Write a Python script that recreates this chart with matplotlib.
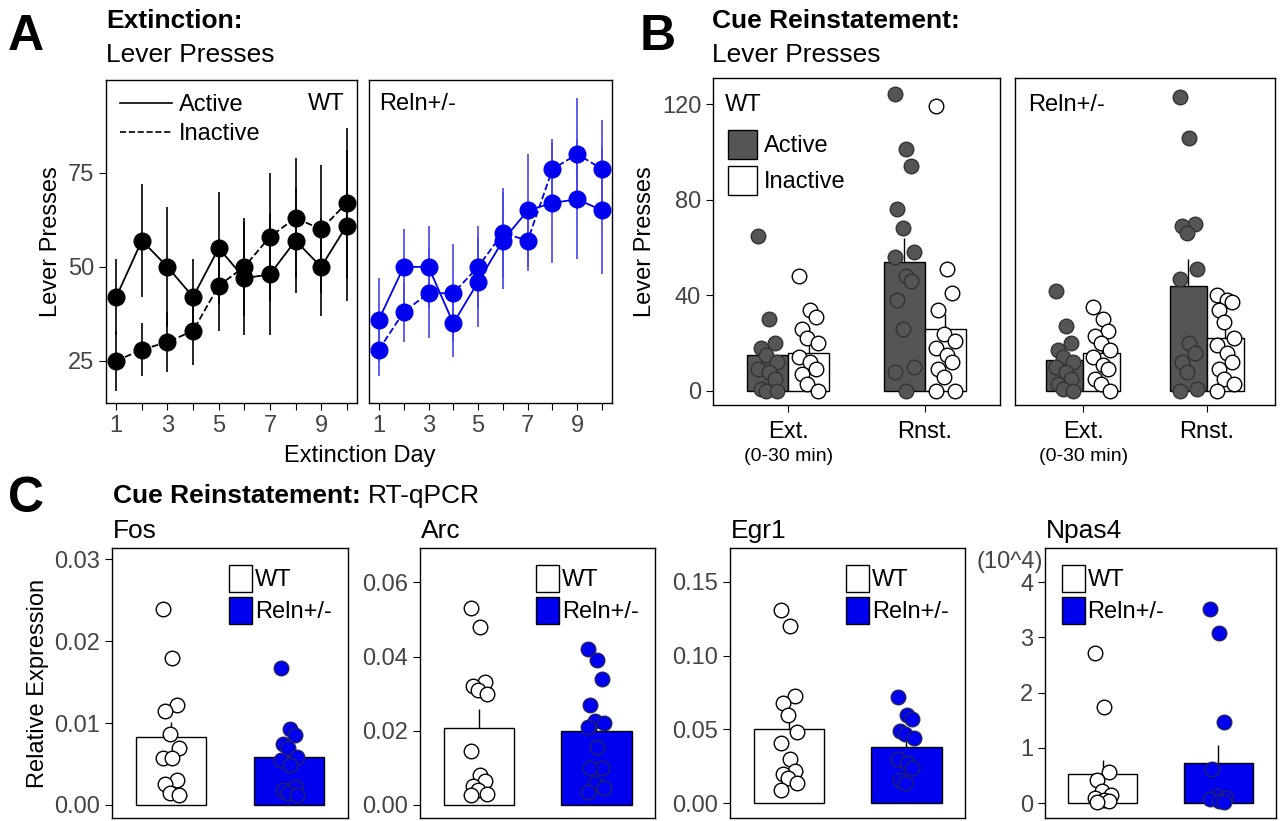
import matplotlib.pyplot as plt
from matplotlib.lines import Line2D
from matplotlib.patches import Patch
import numpy as np

plt.rcParams['font.family'] = ['Liberation Sans', 'DejaVu Sans']

W, H = 1280, 821
GRAY = '#555555'
BLUE = '#0000ee'
TICK_C = '#444444'

# ---- panel A data ----
days = list(range(1, 11))
wt_active = [42, 57, 50, 42, 55, 47, 48, 57, 50, 61]
wt_active_sem = [10, 15, 16, 10, 15, 15, 16, 14, 13, 20]
wt_inactive = [25, 28, 30, 33, 45, 50, 58, 63, 60, 67]
wt_inactive_sem = [8, 7, 8, 9, 12, 13, 17, 16, 17, 20]
rl_active = [36, 50, 50, 35, 46, 57, 65, 67, 68, 65]
rl_active_sem = [11, 10, 11, 9, 12, 13, 15, 16, 16, 17]
rl_inactive = [28, 38, 43, 43, 50, 59, 57, 76, 80, 76]
rl_inactive_sem = [7, 8, 12, 13, 11, 12, 8, 8, 15, 13]

# ---- panel B data ----
b_cats = ['Ext.\n(0-30 min)', 'Rnst.']
b_wt_act_mean = [15, 54]
b_wt_act_sem = [4, 10]
b_wt_ina_mean = [16, 26]
b_wt_ina_sem = [4, 6]
b_rl_act_mean = [13, 44]
b_rl_act_sem = [3, 11]
b_rl_ina_mean = [16, 22]
b_rl_ina_sem = [3, 5]
b_wt_act_pts = [[65, 30, 20, 18, 15, 12, 9, 8, 5, 1, 0, 0],
                [124, 101, 94, 76, 68, 58, 56, 48, 46, 38, 26, 10, 8, 0]]
b_wt_ina_pts = [[48, 34, 31, 26, 22, 20, 14, 12, 9, 7, 3, 0],
                [119, 51, 41, 34, 24, 21, 18, 15, 12, 9, 6, 0, 0]]
b_rl_act_pts = [[42, 27, 20, 17, 14, 12, 10, 8, 5, 3, 1, 0],
                [123, 106, 70, 69, 66, 51, 47, 20, 16, 12, 8, 1, 0]]
b_rl_ina_pts = [[35, 30, 25, 23, 20, 17, 14, 11, 9, 5, 3, 0],
                [40, 38, 37, 34, 29, 22, 19, 16, 12, 9, 5, 3, 0]]

# ---- panel C data ----
genes = ['Fos', 'Arc', 'Egr1', 'Npas4']
c_wt_mean = [0.0083, 0.0208, 0.050, 0.53]
c_wt_sem = [0.0018, 0.005, 0.009, 0.25]
c_rl_mean = [0.0058, 0.0198, 0.038, 0.73]
c_rl_sem = [0.0012, 0.003, 0.004, 0.33]
c_wt_pts = [[0.024, 0.018, 0.0122, 0.0115, 0.0087, 0.007, 0.0057, 0.0057, 0.003, 0.0025, 0.0015, 0.0012],
            [0.053, 0.048, 0.033, 0.032, 0.031, 0.030, 0.0145, 0.008, 0.0065, 0.005, 0.004, 0.003, 0.0025],
            [0.131, 0.120, 0.073, 0.068, 0.060, 0.048, 0.041, 0.030, 0.022, 0.020, 0.017, 0.014, 0.009],
            [2.72, 1.74, 0.57, 0.42, 0.22, 0.15, 0.10, 0.05, 0.03, 0.02]]
c_rl_pts = [[0.0167, 0.0093, 0.0085, 0.0075, 0.0069, 0.0058, 0.0055, 0.0049, 0.0022, 0.0018, 0.0015, 0.0012],
            [0.042, 0.039, 0.034, 0.027, 0.0225, 0.022, 0.021, 0.0155, 0.010, 0.010, 0.0055, 0.0045, 0.0035],
            [0.072, 0.060, 0.057, 0.049, 0.047, 0.044, 0.030, 0.027, 0.024, 0.016, 0.014],
            [3.52, 3.08, 1.46, 0.62, 0.12, 0.10, 0.07, 0.04, 0.02]]
c_ylims = [(-0.0016, 0.0314), (-0.0036, 0.0693), (-0.010, 0.173), (-0.27, 4.62)]
c_yticks = [[0, 0.01, 0.02, 0.03], [0, 0.02, 0.04, 0.06], [0, 0.05, 0.10, 0.15], [0, 1, 2, 3, 4]]
c_yfmt = ['{:.2f}', '{:.2f}', '{:.2f}', '{:.0f}']
c_boxes = [(112, 548, 348, 818), (420, 548, 655, 818), (730, 548, 965, 818), (1045, 548, 1276, 818)]

fig = plt.figure(figsize=(12.8, 8.21), dpi=100)


def box(x0, y0, x1, y1):
    return fig.add_axes([x0 / W, 1 - y1 / H, (x1 - x0) / W, (y1 - y0) / H])


def style(ax, size=15):
    ax.tick_params(labelsize=size, colors='black', labelcolor=TICK_C, length=5)
    for s in ax.spines.values():
        s.set_linewidth(1.0)


def offsets(n, w=0.09):
    return np.array([((i % 3) - 1) * w + ((i % 2) - 0.5) * w * 0.3 for i in range(n)])


# ---------- panel A ----------
fig.text(8 / W, 1 - 50 / H, 'A', fontsize=36, fontweight='bold', va='baseline')
fig.text(106 / W, 1 - 28 / H, 'Extinction:', fontsize=19, fontweight='bold', va='baseline')
fig.text(106 / W, 1 - 62 / H, 'Lever Presses', fontsize=19, va='baseline')

axA1 = box(106, 80, 357, 403)
axA2 = box(369, 80, 612, 403)
for ax, act, asem, ina, isem, col in [
        (axA1, wt_active, wt_active_sem, wt_inactive, wt_inactive_sem, 'black'),
        (axA2, rl_active, rl_active_sem, rl_inactive, rl_inactive_sem, BLUE)]:
    ec = col if col == 'black' else '#4444ee'
    ax.errorbar(days, act, yerr=asem, color=col, ls='-', lw=1.3, marker='o', ms=12,
                elinewidth=1.2, ecolor=ec, capsize=0)
    ax.errorbar(days, ina, yerr=isem, color=col, ls='--', lw=1.3, marker='o', ms=12,
                elinewidth=1.2, ecolor=ec, capsize=0)
    ax.set_xlim(0.6, 10.4)
    ax.set_ylim(13.8, 99.7)
    ax.set_xticks(days)
    ax.set_xticklabels([str(d) if d % 2 else '' for d in days])
    style(ax, 17)
axA1.set_yticks([25, 50, 75])
axA1.set_ylabel('Lever Presses', fontsize=17)
axA2.set_yticks([])
axA1.legend(handles=[Line2D([], [], color='black', lw=1.2, ls='-'),
                     Line2D([], [], color='black', lw=1.2, ls='--')],
            labels=['Active', 'Inactive'], loc='upper left', frameon=False, fontsize=17,
            handlelength=2.2, handletextpad=0.3, borderaxespad=0.2, labelspacing=0.3)
axA1.text(0.95, 0.96, 'WT', transform=axA1.transAxes, ha='right', va='top', fontsize=17)
axA2.text(0.04, 0.96, 'Reln+/-', transform=axA2.transAxes, ha='left', va='top', fontsize=17)
fig.text(360 / W, 1 - 462 / H, 'Extinction Day', fontsize=17, ha='center', va='baseline')

# ---------- panel B ----------
fig.text(640 / W, 1 - 50 / H, 'B', fontsize=36, fontweight='bold', va='baseline')
fig.text(712 / W, 1 - 28 / H, 'Cue Reinstatement:', fontsize=19, fontweight='bold', va='baseline')
fig.text(712 / W, 1 - 62 / H, 'Lever Presses', fontsize=19, va='baseline')

axB1 = box(713, 78, 1000, 405)
axB2 = box(1015, 78, 1275, 405)
bw = 0.3
for ax, am, asem, im, isem, ap, ip in [
        (axB1, b_wt_act_mean, b_wt_act_sem, b_wt_ina_mean, b_wt_ina_sem, b_wt_act_pts, b_wt_ina_pts),
        (axB2, b_rl_act_mean, b_rl_act_sem, b_rl_ina_mean, b_rl_ina_sem, b_rl_act_pts, b_rl_ina_pts)]:
    x = np.arange(len(b_cats))
    ax.bar(x - bw / 2, am, bw, color=GRAY, edgecolor='black', lw=1)
    ax.bar(x + bw / 2, im, bw, color='white', edgecolor='black', lw=1)
    ax.errorbar(x - bw / 2, am, yerr=[np.zeros(2), asem], fmt='none', ecolor='black', lw=1)
    ax.errorbar(x + bw / 2, im, yerr=[np.zeros(2), isem], fmt='none', ecolor='black', lw=1)
    for i in range(len(b_cats)):
        ax.scatter(x[i] - bw / 2 + offsets(len(ap[i]), 0.06), ap[i], s=110, color=GRAY,
                   edgecolor='#333333', lw=1, zorder=3)
        ax.scatter(x[i] + bw / 2 + offsets(len(ip[i]), 0.06), ip[i], s=110, color='white',
                   edgecolor='black', lw=1, zorder=3)
    ax.set_xlim(-0.55, 1.55)
    ax.set_ylim(-5.9, 130.9)
    ax.set_xticks(x)
    ax.set_xticklabels(['', ''])
    for i, c in enumerate(b_cats):
        top, sub = (c.split('\n') + [''])[:2]
        ax.text(x[i], -0.05, top, transform=ax.get_xaxis_transform(), ha='center', va='top', fontsize=17)
        if sub:
            ax.text(x[i], -0.13, sub, transform=ax.get_xaxis_transform(), ha='center', va='top', fontsize=14)
    style(ax, 17)
axB1.set_yticks([0, 40, 80, 120])
axB1.set_ylabel('Lever Presses', fontsize=17)
axB2.set_yticks([])
axB1.text(0.04, 0.95, 'WT', transform=axB1.transAxes, ha='left', va='top', fontsize=17)
axB2.text(0.05, 0.95, 'Reln+/-', transform=axB2.transAxes, ha='left', va='top', fontsize=17)
axB1.legend(handles=[Patch(facecolor=GRAY, edgecolor='black'), Patch(facecolor='white', edgecolor='black')],
            labels=['Active', 'Inactive'], loc='upper left', bbox_to_anchor=(0.02, 0.87),
            frameon=False, fontsize=17, handlelength=1.2, handleheight=1.5, handletextpad=0.3,
            labelspacing=0.3, borderaxespad=0)

# ---------- panel C ----------
fig.text(8 / W, 1 - 512 / H, 'C', fontsize=36, fontweight='bold', va='baseline')
fig.text(113 / W, 1 - 503 / H, 'Cue Reinstatement:', fontsize=19, fontweight='bold', va='baseline')
fig.text(368 / W, 1 - 503 / H, 'RT-qPCR', fontsize=19, va='baseline')
for k, g in enumerate(genes):
    x0, y0, x1, y1 = c_boxes[k]
    ax = box(x0, y0, x1, y1)
    fig.text(x0 / W + 0.001, 1 - 538 / H, g, fontsize=19, va='baseline')
    x = np.arange(2)
    ax.bar(x, [c_wt_mean[k], c_rl_mean[k]], 0.6, color=['white', BLUE], edgecolor='black', lw=1)
    ax.errorbar(x, [c_wt_mean[k], c_rl_mean[k]], yerr=[np.zeros(2), [c_wt_sem[k], c_rl_sem[k]]],
                fmt='none', ecolor='black', lw=1)
    ax.scatter(0 + offsets(len(c_wt_pts[k]), 0.06), c_wt_pts[k], s=110, color='white',
               edgecolor='black', lw=1, zorder=3)
    ax.scatter(1 + offsets(len(c_rl_pts[k]), 0.06), c_rl_pts[k], s=110, color=BLUE,
               edgecolor='#222266', lw=1, zorder=3)
    ax.set_xlim(-0.5, 1.5)
    ax.set_ylim(*c_ylims[k])
    ax.set_yticks(c_yticks[k])
    ax.set_yticklabels([c_yfmt[k].format(v) for v in c_yticks[k]])
    ax.set_xticks([])
    style(ax, 17)
    if k == 0:
        ax.set_ylabel('Relative Expression', fontsize=17)
    ax.legend(handles=[Patch(facecolor='white', edgecolor='black'), Patch(facecolor=BLUE, edgecolor='black')],
              labels=['WT', 'Reln+/-'], loc='upper right' if k < 3 else 'upper left',
              bbox_to_anchor=(1.0, 1.0) if k < 3 else (0.0, 1.0),
              frameon=False, fontsize=17, handlelength=1.0, handleheight=1.4, handletextpad=0.1,
              labelspacing=0.2, borderaxespad=0.3)
    if k == 3:
        ax.text(-0.01, 0.99, '(10^4)', transform=ax.transAxes, ha='right', va='top',
                fontsize=17, color=TICK_C)

fig.savefig('out.png', dpi=100)
